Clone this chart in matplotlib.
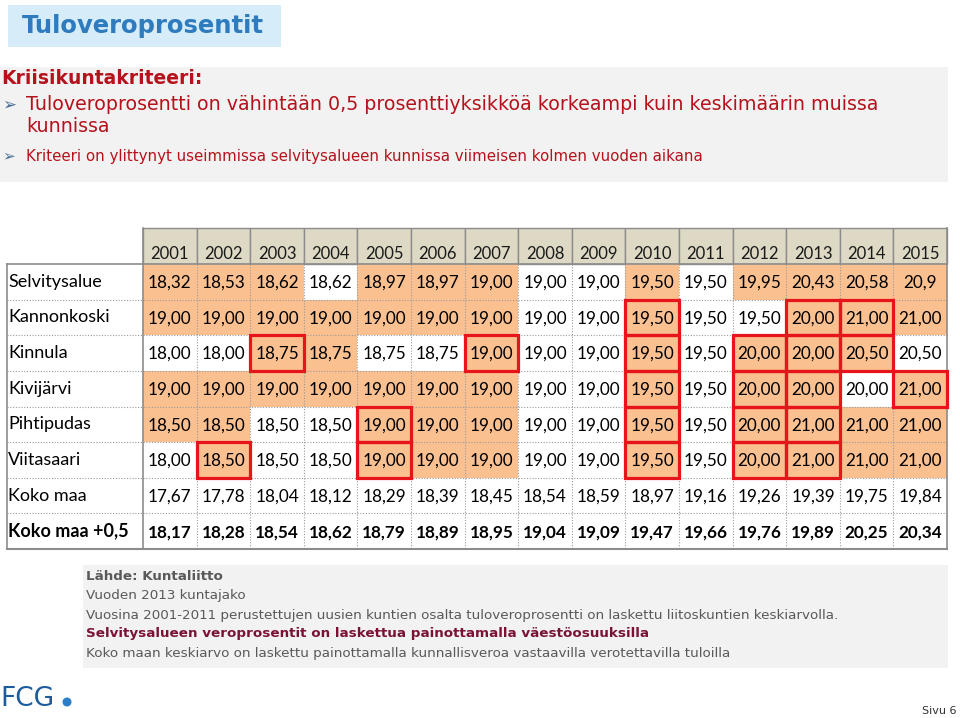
import matplotlib
matplotlib.use("Agg")
import matplotlib.pyplot as plt
from matplotlib.patches import Rectangle, Circle

# table data
years = [str(y) for y in range(2001, 2016)]
row_labels = ["Selvitysalue", "Kannonkoski", "Kinnula", "Kivijärvi", "Pihtipudas",
              "Viitasaari", "Koko maa", "Koko maa +0,5"]

selvitysalue = ["18,32", "18,53", "18,62", "18,62", "18,97", "18,97", "19,00", "19,00",
                "19,00", "19,50", "19,50", "19,95", "20,43", "20,58", "20,9"]
kannonkoski = ["19,00", "19,00", "19,00", "19,00", "19,00", "19,00", "19,00", "19,00",
               "19,00", "19,50", "19,50", "19,50", "20,00", "21,00", "21,00"]
kinnula = ["18,00", "18,00", "18,75", "18,75", "18,75", "18,75", "19,00", "19,00",
           "19,00", "19,50", "19,50", "20,00", "20,00", "20,50", "20,50"]
kivijarvi = ["19,00", "19,00", "19,00", "19,00", "19,00", "19,00", "19,00", "19,00",
             "19,00", "19,50", "19,50", "20,00", "20,00", "20,00", "21,00"]
pihtipudas = ["18,50", "18,50", "18,50", "18,50", "19,00", "19,00", "19,00", "19,00",
              "19,00", "19,50", "19,50", "20,00", "21,00", "21,00", "21,00"]
viitasaari = ["18,00", "18,50", "18,50", "18,50", "19,00", "19,00", "19,00", "19,00",
              "19,00", "19,50", "19,50", "20,00", "21,00", "21,00", "21,00"]
koko_maa = ["17,67", "17,78", "18,04", "18,12", "18,29", "18,39", "18,45", "18,54",
            "18,59", "18,97", "19,16", "19,26", "19,39", "19,75", "19,84"]
koko_maa_05 = ["18,17", "18,28", "18,54", "18,62", "18,79", "18,89", "18,95", "19,04",
               "19,09", "19,47", "19,66", "19,76", "19,89", "20,25", "20,34"]
table_rows = [selvitysalue, kannonkoski, kinnula, kivijarvi, pihtipudas, viitasaari,
              koko_maa, koko_maa_05]

# O = orange (above the limit), W = white
highlight = ["OOOWOOOWWOWOOOO",
             "OOOOOOOWWOWWOOO",
             "WWOOWWOWWOWOOOW",
             "OOOOOOOWWOWOOWO",
             "OOWWOOOWWOWOOOO",
             "WOWWOOOWWOWOOOO",
             "WWWWWWWWWWWWWWW",
             "WWWWWWWWWWWWWWW"]
# red boxes: (row index, year)
red_boxes = [(1, 2010), (1, 2013), (1, 2014),
             (2, 2003), (2, 2007), (2, 2010), (2, 2012), (2, 2013), (2, 2014),
             (3, 2010), (3, 2012), (3, 2013), (3, 2015),
             (4, 2005), (4, 2010), (4, 2012), (4, 2013),
             (5, 2002), (5, 2005), (5, 2010), (5, 2012), (5, 2013)]

notes = ["Lähde: Kuntaliitto",
         "Vuoden 2013 kuntajako",
         "Vuosina 2001-2011 perustettujen uusien kuntien osalta tuloveroprosentti on laskettu liitoskuntien keskiarvolla.",
         "Selvitysalueen veroprosentit on laskettua painottamalla väestöosuuksilla",
         "Koko maan keskiarvo on laskettu painottamalla kunnallisveroa vastaavilla verotettavilla tuloilla"]

ORANGE = "#fac090"
HEAD = "#ddd9c4"
GRID = "#8c8c8c"
RED = "#e8141b"
DARKRED = "#b5121b"
TABLE_FONT = "Lato"
NOTE_FONT = "DejaVu Sans"

fig = plt.figure(figsize=(9.6, 7.18), dpi=100)
ax = fig.add_axes([0, 0, 1, 1])
ax.set_xlim(0, 960)
ax.set_ylim(718, 0)
ax.axis("off")

# title
ax.add_patch(Rectangle((8, 5), 273, 42, color="#d6edf9", lw=0))
ax.text(22, 26, "Tuloveroprosentit", fontsize=17.5, fontweight="bold", color="#2e7bbd",
        va="center", ha="left")

# criteria panel
ax.add_patch(Rectangle((0, 67), 948, 115, color="#f2f2f2", lw=0))
ax.text(1, 78, "Kriisikuntakriteeri:", fontsize=13.5, fontweight="bold", color=DARKRED,
        va="center")
ax.text(2, 105, "➢", fontsize=12, color="#4a6f96", va="center")
ax.text(26, 105, "Tuloveroprosentti on vähintään 0,5 prosenttiyksikköä korkeampi kuin keskimäärin muissa",
        fontsize=13.7, color=DARKRED, va="center")
ax.text(26, 127, "kunnissa", fontsize=13.7, color=DARKRED, va="center")
ax.text(2, 156, "➢", fontsize=11, color="#4a6f96", va="center")
ax.text(26, 156, "Kriteeri on ylittynyt useimmissa selvitysalueen kunnissa viimeisen kolmen vuoden aikana",
        fontsize=10.8, color=DARKRED, va="center")

# table geometry
x_lab, x0, x1 = 7, 143, 947
y_head, y0, y1 = 228, 264, 549
cw = (x1 - x0) / len(years)
rh = (y1 - y0) / len(table_rows)

# header
for j, yr in enumerate(years):
    ax.add_patch(Rectangle((x0 + j * cw, y_head), cw, y0 - y_head, facecolor=HEAD,
                           edgecolor=GRID, lw=1))
    ax.text(x0 + (j + 0.5) * cw, y0 - 10, yr, fontsize=12, family=TABLE_FONT,
            color="#1a1a1a", ha="center", va="center")

# cells
for i, (lab, vals) in enumerate(zip(row_labels, table_rows)):
    yt = y0 + i * rh
    bold = "bold" if i == len(table_rows) - 1 else "normal"
    ax.text(x_lab + 1, yt + rh / 2, lab, fontsize=13, family=TABLE_FONT,
            fontweight=bold, color="black", ha="left", va="center")
    for j, v in enumerate(vals):
        if highlight[i][j] == "O":
            ax.add_patch(Rectangle((x0 + j * cw, yt), cw, rh, facecolor=ORANGE, lw=0))
        ax.text(x0 + (j + 0.5) * cw, yt + rh / 2 + 1, v, fontsize=12.3, family=TABLE_FONT,
                fontweight=bold, color="black", ha="center", va="center")

# dotted inner grid
for j in range(1, len(years)):
    ax.plot([x0 + j * cw] * 2, [y0, y1], color="#9a9a9a", lw=0.8, ls=(0, (1, 1.5)))
for i in range(1, len(table_rows)):
    ax.plot([x_lab, x1], [y0 + i * rh] * 2, color="#9a9a9a", lw=0.8, ls=(0, (1, 1.5)))

# solid frame
ax.plot([x_lab, x1], [y0, y0], color=GRID, lw=1.2)
ax.plot([x_lab, x1], [y1, y1], color=GRID, lw=1.5)
ax.plot([x_lab, x_lab], [y0, y1], color=GRID, lw=1.2)
ax.plot([x0, x0], [y_head, y1], color=GRID, lw=1.2)
ax.plot([x1, x1], [y_head, y1], color=GRID, lw=1.2)

# red boxes
for i, yr in red_boxes:
    j = years.index(str(yr))
    ax.add_patch(Rectangle((x0 + j * cw, y0 + i * rh), cw, rh, fill=False,
                           edgecolor=RED, lw=2.3, zorder=5))

# notes panel
ax.add_patch(Rectangle((83, 565), 865, 103, color="#f2f2f2", lw=0))
note_y = [576, 596, 615, 634, 653]
for k, (txt, ny) in enumerate(zip(notes, note_y)):
    col = "#7a1238" if k == 3 else "#595959"
    wt = "bold" if k in (0, 3) else "normal"
    ax.text(86, ny, txt, fontsize=9.7, family=NOTE_FONT, color=col, fontweight=wt,
            va="center")

# logo + page number
ax.text(0, 706, "FCG", fontsize=19, family="DejaVu Sans", color="#1c5c9c", va="baseline")
ax.add_patch(Circle((67, 702), 4.5, color="#2d80c8", lw=0))
ax.text(922, 711, "Sivu 6", fontsize=8, family=NOTE_FONT, color="#333333", va="center")

fig.savefig("out.png", dpi=100)
